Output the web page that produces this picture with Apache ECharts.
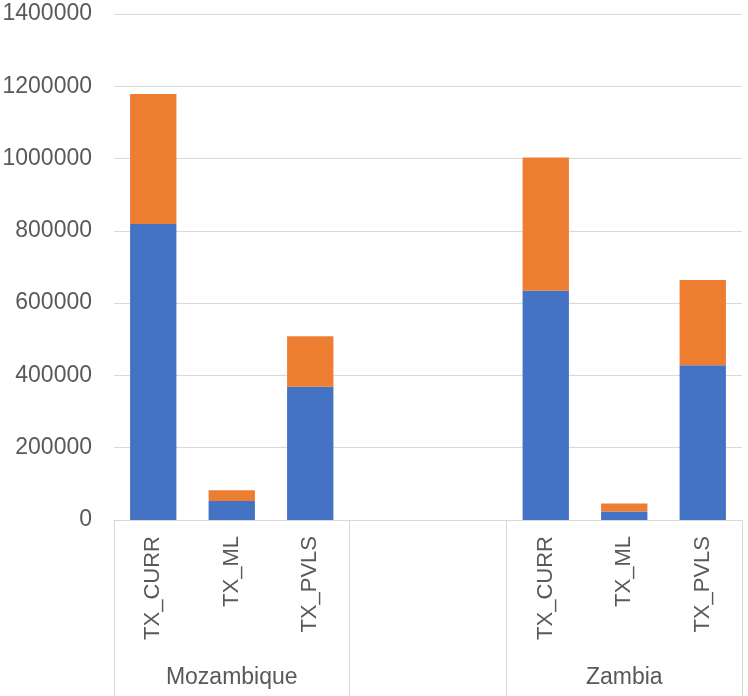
<!DOCTYPE html>
<html>
<head>
<meta charset="utf-8">
<script src="https://cdn.jsdelivr.net/npm/echarts@6/dist/echarts.min.js"></script>
<style>
  html, body { margin: 0; padding: 0; background: #ffffff; }
  #chart { width: 748px; height: 696px; }
</style>
</head>
<body>
<div id="chart"></div>
<script>
// Indicator categories, two countries separated by an empty gap of two slots
const indicators = ['TX_CURR', 'TX_ML', 'TX_PVLS', '', '', 'TX_CURR', 'TX_ML', 'TX_PVLS'];
// Country group labels, placed under the middle indicator of each group
const countryLabels = ['', 'Mozambique', '', '', '', '', 'Zambia', ''];
// Category index where each country group (and the gap) begins
const groupStarts = [0, 3, 5];

// Stacked values per indicator
const seriesA = [819000, 52500, 368500, null, null, 634000, 23500, 428500];
const seriesB = [360000, 29500, 140000, null, null, 369000, 22000, 235500];

const yTicks = { min: 0, max: 1400000, interval: 200000 };

const textColor = '#595959';
const lineColor = '#d9d9d9';
const fontFamily = "'Liberation Sans', Arial, sans-serif";

const chart = echarts.init(document.getElementById('chart'));
chart.setOption({
  animation: false,
  backgroundColor: '#ffffff',
  grid: {
    left: 114, right: 6, top: 14, bottom: 176,
    containLabel: false,
    outerBoundsMode: 'none'
  },
  xAxis: [
    {
      type: 'category',
      data: indicators,
      position: 'bottom',
      axisLine: { show: true, lineStyle: { color: lineColor, width: 1 } },
      axisTick: { show: false },
      axisLabel: {
        interval: 0,
        rotate: 90,
        margin: 16,
        color: textColor,
        fontSize: 22,
        fontFamily: fontFamily
      },
      splitLine: { show: false }
    },
    {
      type: 'category',
      data: countryLabels,
      position: 'bottom',
      axisLine: { show: false },
      axisTick: {
        show: true,
        length: 176,
        interval: function (index) { return groupStarts.indexOf(index) !== -1; },
        lineStyle: { color: lineColor, width: 1 }
      },
      axisLabel: {
        interval: 0,
        margin: 146,
        color: textColor,
        fontSize: 23,
        fontFamily: fontFamily
      },
      splitLine: { show: false }
    }
  ],
  yAxis: {
    type: 'value',
    min: yTicks.min,
    max: yTicks.max,
    interval: yTicks.interval,
    axisLine: { show: false },
    axisTick: { show: false },
    axisLabel: {
      margin: 22,
      color: textColor,
      fontSize: 23,
      fontFamily: fontFamily,
      formatter: function (v) { return String(v); }
    },
    splitLine: { show: true, lineStyle: { color: lineColor, width: 1 } }
  },
  series: [
    {
      name: 'A',
      type: 'bar',
      stack: 'total',
      xAxisIndex: 0,
      data: seriesA,
      barWidth: '59%',
      itemStyle: { color: '#4472C4' }
    },
    {
      name: 'B',
      type: 'bar',
      stack: 'total',
      xAxisIndex: 0,
      data: seriesB,
      barWidth: '59%',
      itemStyle: { color: '#ED7D31' }
    }
  ]
});
</script>
</body>
</html>
